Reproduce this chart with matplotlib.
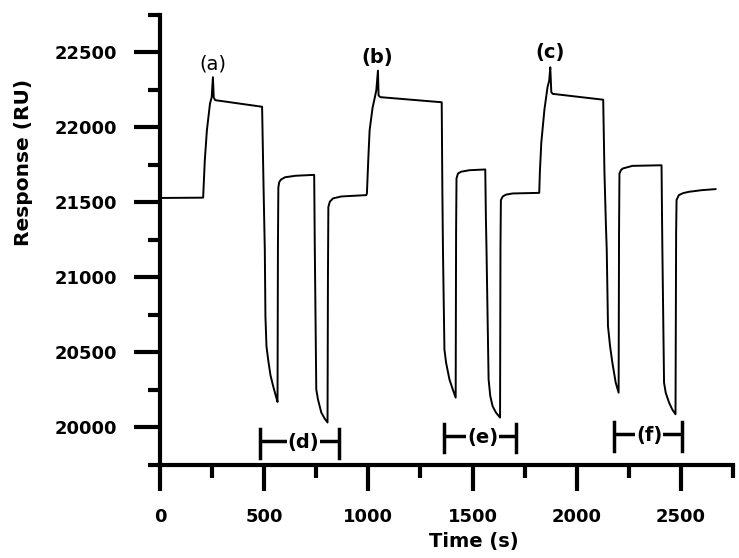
import matplotlib.pyplot as plt
from matplotlib.ticker import MultipleLocator

# sensorgram, one list pair per injection cycle
cycle1_t = [0, 207, 215, 225, 240, 248, 254, 258, 265, 490,
            497, 503, 506, 511, 519, 530, 543, 555, 564,
            566, 568, 572, 580, 600, 650, 740,
            743, 750, 758, 774, 790, 804,
            806, 808, 815, 830, 870, 990]
cycle1_ru = [21530, 21532, 21780, 21980, 22160, 22200, 22335, 22200, 22182, 22138,
             21600, 21184, 20741, 20542, 20453, 20350, 20276, 20215, 20170,
             21200, 21600, 21635, 21652, 21668, 21678, 21684,
             21184, 20254, 20188, 20100, 20060, 20033,
             21000, 21470, 21505, 21527, 21540, 21549]

cycle2_t = [993, 1000, 1006, 1020, 1038, 1046, 1049, 1058, 1352,
            1355, 1358, 1365, 1373, 1389, 1405, 1419,
            1421, 1423, 1430, 1445, 1485, 1561,
            1564, 1567, 1572, 1577, 1585, 1596, 1612, 1632,
            1634, 1636, 1645, 1660, 1692, 1820]
cycle2_ru = [21560, 21800, 21981, 22130, 22246, 22379, 22213, 22202, 22168,
             21600, 21184, 20520, 20432, 20321, 20254, 20199,
             21300, 21660, 21693, 21705, 21715, 21720,
             21400, 21184, 20750, 20321, 20210, 20143, 20100, 20066,
             21200, 21516, 21540, 21552, 21560, 21564]

cycle3_t = [1823, 1830, 1845, 1860, 1868, 1873, 1878, 1885, 2127,
            2133, 2140, 2144, 2150, 2160, 2171, 2187, 2201,
            2203, 2205, 2212, 2220, 2267, 2407,
            2409, 2411, 2419, 2427, 2443, 2458, 2474,
            2477, 2479, 2490, 2510, 2538, 2600, 2666]
cycle3_ru = [21700, 21900, 22120, 22270, 22313, 22401, 22235, 22224, 22185,
             21700, 21350, 21184, 20675, 20542, 20432, 20299, 20232,
             21300, 21693, 21715, 21726, 21744, 21748,
             21450, 21184, 20299, 20232, 20166, 20121, 20088,
             21300, 21516, 21549, 21562, 21571, 21582, 21589]

peak_labels = ["(a)", "(b)", "(c)"]
peak_t = [255, 1042, 1873]
peak_ru = [22424, 22467, 22501]

interval_labels = ["(d)", "(e)", "(f)"]
interval_start = [479, 1365, 2179]
interval_end = [857, 1708, 2506]
interval_text_t = [687, 1548, 2347]
interval_ru = [19907, 19944, 19955]

time_s = cycle1_t + cycle2_t + cycle3_t
response_ru = cycle1_ru + cycle2_ru + cycle3_ru

fig = plt.figure(figsize=(7.39, 5.58), dpi=100)
ax = fig.add_axes([0.2165, 0.1667, 0.7754, 0.8065])

ax.plot(time_s, response_ru, color="black", lw=1.4)

# peak labels
for lab, t, r in zip(peak_labels, peak_t, peak_ru):
    w = "normal" if lab == "(a)" else "bold"
    ax.text(t, r, lab, ha="center", va="center", fontsize=14, fontweight=w)

# regeneration interval brackets
for lab, t0, t1, tt, r in zip(interval_labels, interval_start, interval_end,
                               interval_text_t, interval_ru):
    ax.plot([t0, t1], [r, r], color="black", lw=2.5, solid_capstyle="butt")
    ax.plot([t0, t0], [r - 110, r + 80], color="black", lw=2.5)
    ax.plot([t1, t1], [r - 110, r + 80], color="black", lw=2.5)
    ax.text(tt, r - 10, lab, ha="center", va="center", fontsize=14,
            fontweight="bold",
            bbox=dict(facecolor="white", edgecolor="none", pad=0.5))

ax.set_xlim(0, 2750)
ax.set_ylim(19750, 22750)
ax.xaxis.set_major_locator(MultipleLocator(500))
ax.xaxis.set_minor_locator(MultipleLocator(250))
ax.yaxis.set_major_locator(MultipleLocator(500))
ax.yaxis.set_minor_locator(MultipleLocator(250))

for s in ["top", "right"]:
    ax.spines[s].set_visible(False)
for s in ["left", "bottom"]:
    ax.spines[s].set_linewidth(3)

ax.tick_params(which="major", direction="out", length=19, width=3, pad=12,
               labelsize=13)
ax.tick_params(which="minor", direction="out", length=9, width=3)
for lbl in ax.get_xticklabels() + ax.get_yticklabels():
    lbl.set_fontweight("bold")

ax.set_xlabel("Time (s)", fontsize=14, fontweight="bold")
ax.set_ylabel("Response (RU)", fontsize=14.5, fontweight="bold")
ax.xaxis.set_label_coords(0.548, -0.15)
ax.yaxis.set_label_coords(-0.222, 0.673)

plt.savefig("out.png", dpi=100)
